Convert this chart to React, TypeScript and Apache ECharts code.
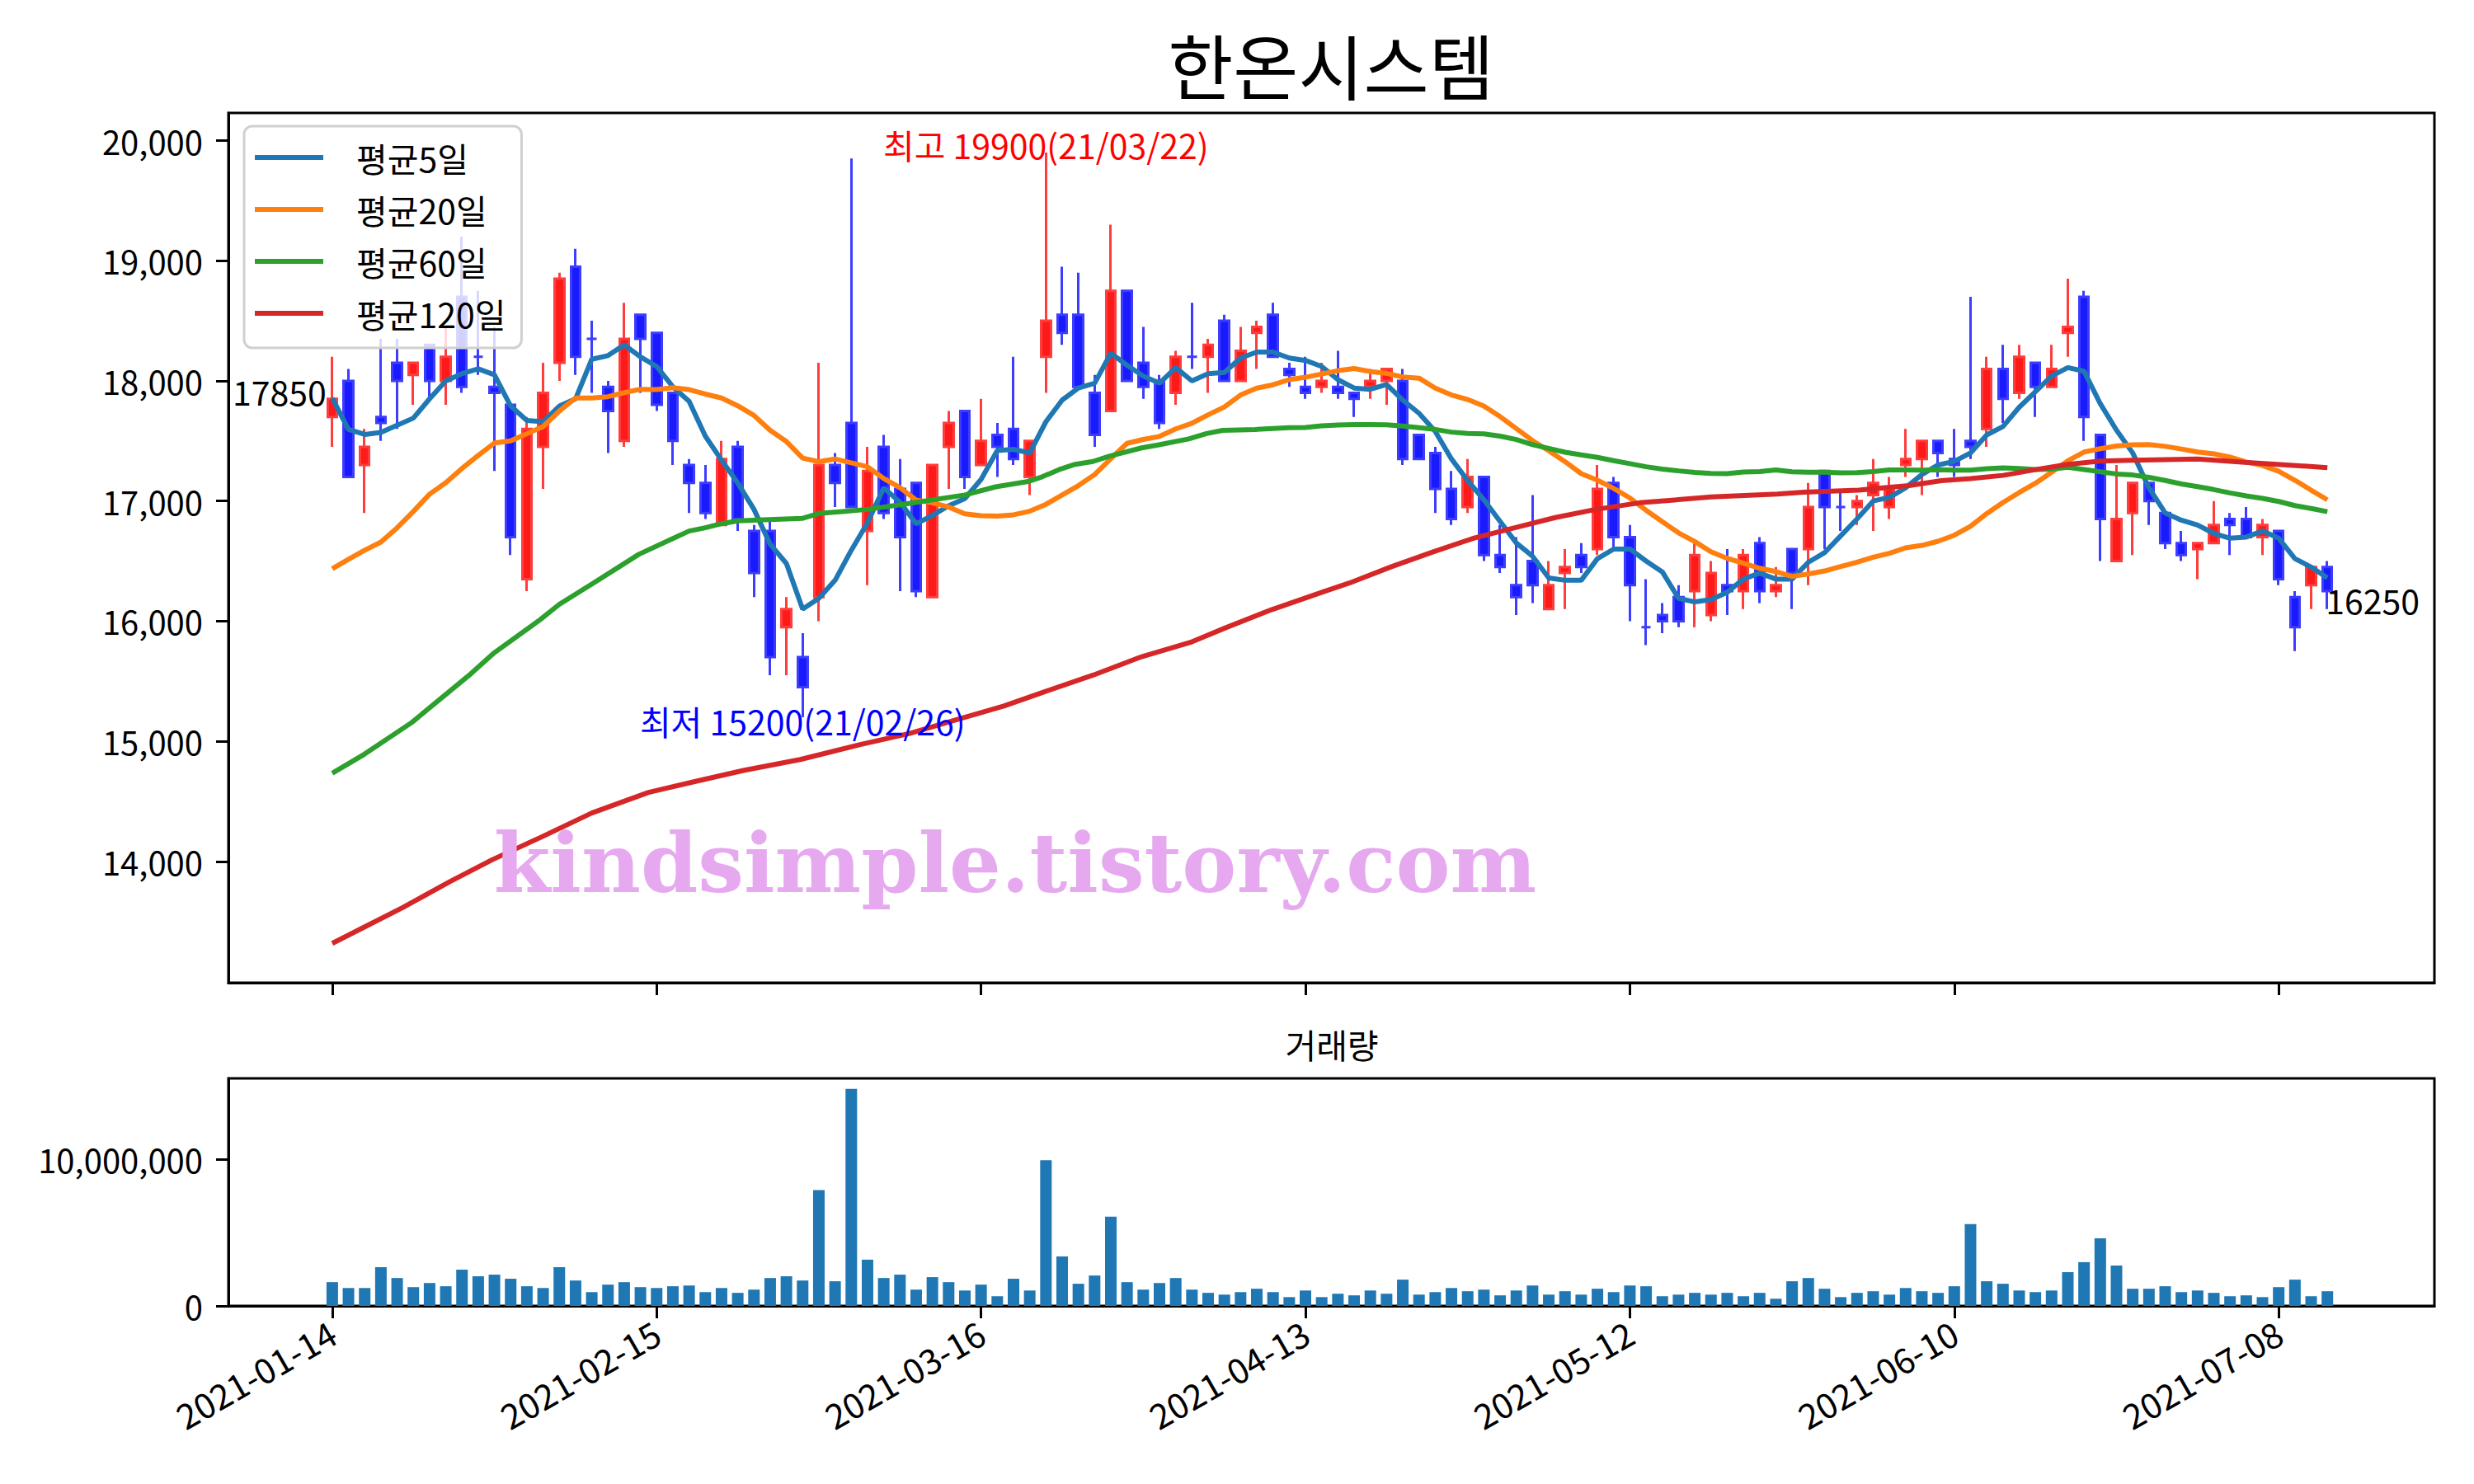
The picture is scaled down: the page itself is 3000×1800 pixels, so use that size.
import React, { useEffect, useRef } from "react";
import * as echarts from "echarts";

const dates = [
  "2021-01-14","2021-01-15","2021-01-18","2021-01-19","2021-01-20","2021-01-21","2021-01-22","2021-01-25","2021-01-26","2021-01-27","2021-01-28","2021-01-29",
  "2021-02-01","2021-02-02","2021-02-03","2021-02-04","2021-02-05","2021-02-08","2021-02-09","2021-02-10","2021-02-15","2021-02-16","2021-02-17","2021-02-18","2021-02-19","2021-02-22","2021-02-23","2021-02-24","2021-02-25","2021-02-26",
  "2021-03-02","2021-03-03","2021-03-04","2021-03-05","2021-03-08","2021-03-09","2021-03-10","2021-03-11","2021-03-12","2021-03-15","2021-03-16","2021-03-17","2021-03-18","2021-03-19","2021-03-22","2021-03-23","2021-03-24","2021-03-25","2021-03-26","2021-03-29","2021-03-30","2021-03-31",
  "2021-04-01","2021-04-02","2021-04-05","2021-04-06","2021-04-07","2021-04-08","2021-04-09","2021-04-12","2021-04-13","2021-04-14","2021-04-15","2021-04-16","2021-04-19","2021-04-20","2021-04-21","2021-04-22","2021-04-23","2021-04-26","2021-04-27","2021-04-28","2021-04-29","2021-04-30",
  "2021-05-03","2021-05-04","2021-05-06","2021-05-07","2021-05-10","2021-05-11","2021-05-12","2021-05-13","2021-05-14","2021-05-17","2021-05-18","2021-05-20","2021-05-21","2021-05-24","2021-05-25","2021-05-26","2021-05-27","2021-05-28","2021-05-31",
  "2021-06-01","2021-06-02","2021-06-03","2021-06-04","2021-06-07","2021-06-08","2021-06-09","2021-06-10","2021-06-11","2021-06-14","2021-06-15","2021-06-16","2021-06-17","2021-06-18","2021-06-21","2021-06-22","2021-06-23","2021-06-24","2021-06-25","2021-06-28","2021-06-29","2021-06-30",
  "2021-07-01","2021-07-02","2021-07-05","2021-07-06","2021-07-07","2021-07-08","2021-07-09","2021-07-12","2021-07-13",
];

const opens = [
  17700,18000,17300,17700,18150,18050,18300,18000,18700,18200,17950,17800,16350,17450,18150,18950,18350,17950,17500,18550,
  18400,17900,17300,17150,16800,17450,16750,16750,15950,15700,16200,17300,17650,16750,17450,17100,17150,16200,17450,17750,
  17300,17550,17600,17200,18200,18550,18550,17900,17750,18750,18150,18000,17900,18200,18200,18500,18000,18400,18550,18100,
  17950,17950,17950,17900,17950,18000,18000,17550,17400,17100,16950,17200,16550,16300,16500,16100,16400,16550,16600,17150,
  16700,15950,16050,16200,16250,16050,16300,16250,16650,16250,16600,16600,17250,16950,16950,17050,16950,17300,17350,17500,
  17350,17500,17600,18100,17900,18150,17950,18400,18700,17550,16500,16900,17150,16900,16650,16600,16650,16850,16850,16700,
  16750,16200,16300,16450,
];
const highs = [
  18200,18100,17600,18350,18350,18150,18300,18450,19200,18750,18450,17800,17700,18150,18900,19100,18500,18000,18650,18550,
  18400,17900,17350,17300,17500,17500,16800,16850,16200,15900,18150,17400,19850,17450,17550,17350,17150,17300,17750,17750,
  17850,17650,18200,17500,19900,18950,18900,18050,19300,18750,18450,18050,18250,18650,18350,18550,18450,18500,18650,18150,
  18200,18150,18250,17900,18100,18100,18100,17550,17450,17250,17350,17200,16800,16700,17050,16500,16600,16650,17300,17200,
  16800,16350,16150,16300,16650,16500,16600,16600,16700,16450,16600,17150,17250,17100,17050,17350,17200,17600,17500,17500,
  17600,18700,18200,18300,18300,18150,18300,18850,18750,17550,17300,17150,17150,16900,16750,16650,17000,16900,16950,16850,
  16750,16250,16450,16500,
];
const lows = [
  17450,17200,16900,17500,17600,17800,17850,17800,17900,18050,17250,16550,16250,17100,18000,18050,17900,17400,17450,17900,
  17750,17300,16900,16850,16800,16750,16200,15550,15550,15200,16000,16950,16950,16300,16850,16250,16200,16200,17100,17100,
  17300,17200,17300,17050,17900,18300,17950,17450,17750,18000,17850,17600,17800,18100,17900,18000,18000,18100,18200,17950,
  17850,17900,17850,17700,17850,17800,17300,17350,16900,16800,16900,16500,16400,16050,16150,16100,16100,16400,16550,16600,
  16000,15800,15900,15950,15950,16000,16050,16100,16150,16200,16100,16300,16600,16750,16800,16750,16850,17200,17050,17200,
  17200,17350,17450,17650,17850,17700,17950,18200,17500,16500,16500,16550,16800,16600,16500,16350,16650,16550,16700,16550,
  16300,15750,16100,16100,
];
const closes = [
  17850,17200,17450,17650,18000,18150,18000,18200,17950,18200,17900,16700,17600,17900,18850,18200,18350,17750,18350,18350,
  17800,17500,17150,16900,17350,16850,16400,15700,16100,15450,17300,17150,16950,17250,16900,16700,16250,17300,17650,17200,
  17500,17450,17350,17500,18500,18400,17950,17550,18750,18000,17950,17650,18200,18200,18300,18000,18250,18450,18200,18050,
  17900,18000,17900,17850,18000,18100,17350,17350,17100,16850,17200,16550,16450,16200,16300,16300,16450,16450,17100,16700,
  16300,15950,16000,16000,16550,16400,16250,16550,16250,16300,16400,16950,16950,16950,17000,17150,17100,17350,17500,17400,
  17300,17450,18100,17850,18200,17950,18100,18450,17700,16850,16850,17150,17000,16650,16550,16650,16800,16800,16700,16800,
  16350,15950,16450,16250,
];
const volumes = [
  1620000,1220000,1220000,2640000,1900000,1280000,1560000,1340000,2470000,2020000,2130000,1850000,1340000,1220000,2640000,1730000,940000,1450000,1620000,1280000,
  1220000,1340000,1390000,940000,1220000,890000,1110000,1900000,2020000,1730000,7890000,1680000,14780000,3150000,1900000,2130000,1110000,1960000,1620000,1050000,
  1450000,660000,1850000,1050000,9930000,3370000,1510000,2070000,6080000,1620000,1110000,1560000,1900000,1110000,890000,770000,940000,1170000,940000,600000,
  1050000,600000,830000,720000,1050000,830000,1790000,770000,940000,1220000,1000000,1110000,720000,1050000,1390000,770000,1000000,770000,1170000,940000,
  1390000,1340000,660000,770000,890000,770000,890000,660000,890000,490000,1680000,1900000,1170000,600000,890000,1000000,770000,1220000,1000000,890000,
  1340000,5570000,1680000,1510000,1050000,940000,1050000,2300000,2980000,4610000,2750000,1170000,1170000,1340000,940000,1050000,890000,660000,720000,600000,
  1280000,1790000,660000,1000000,
];

const ma5Head = [[0, 17857], [1, 17595], [2, 17554], [3, 17571]];
const ma20Head = [
  [0, 16436], [1, 16515], [2, 16590], [3, 16658], [4, 16777], [5, 16913], [6, 17057], [7, 17152], [8, 17271], [9, 17380],
  [10, 17483], [11, 17500], [12, 17561], [13, 17619], [14, 17748], [15, 17857], [16, 17857], [17, 17868], [18, 17902],
];
const ma60Head = [
  [0, 14734], [2, 14894], [4.9, 15156], [8.4, 15545], [10, 15738], [12.8, 16010], [14, 16140], [16.1, 16317],
  [18.9, 16556], [20.8, 16675], [22, 16750], [23, 16777], [24, 16811], [25, 16835], [26.9, 16845], [29, 16856], [30, 16896],
  [33, 16930], [35.7, 16982], [39, 17050], [40.9, 17118], [42.9, 17162], [43.8, 17203], [44.8, 17261], [45.8, 17305],
  [46.9, 17329], [47.9, 17373], [49.9, 17442], [50.9, 17466], [52.8, 17517], [53.9, 17561], [54.9, 17588], [56.9, 17595],
];
const ma120Points = [
  [0, 13318], [2, 13455], [4.34, 13615], [7.25, 13832], [9.88, 14015], [12.8, 14197], [16, 14403], [19.5, 14574],
  [22.4, 14666], [25.35, 14757], [28.85, 14848], [32.6, 14974], [35.6, 15065], [38.5, 15180], [41.4, 15293], [43.8, 15407],
  [46.9, 15550], [49.9, 15704], [52.9, 15823], [54.9, 15935], [57.9, 16095], [61.2, 16249], [62.7, 16317], [65.3, 16453],
  [67.8, 16573], [70.4, 16692], [72.9, 16777], [75.4, 16862], [77.9, 16930], [80.6, 16985], [85, 17033], [89.1, 17057],
  [90.7, 17074], [94.1, 17091], [97.2, 17128], [99.2, 17169], [101, 17186], [103, 17213], [105, 17261], [107, 17305],
  [109, 17333], [111, 17339], [115, 17350], [117.9, 17322], [119.9, 17305], [123, 17278],
];

const priceTicks = [14000, 15000, 16000, 17000, 18000, 19000, 20000];
const volumeTicks = [0, 10000000];
const dateTickIdx = [0, 20, 40, 60, 80, 100, 120];
const maNames = ["평균5일", "평균20일", "평균60일", "평균120일"];

const FONT = "'Noto Sans CJK KR', 'Noto Sans', sans-serif";
const UP = "#ff1a1a";
const UP_B = "#ff3d3d";
const DOWN = "#1a1aff";
const DOWN_B = "#3d3dff";

function rolling(n: number): number[][] {
  const out: number[][] = [];
  for (let i = n - 1; i < closes.length; i++) {
    let s = 0;
    for (let k = i - n + 1; k <= i; k++) s += closes[k];
    out.push([i, s / n]);
  }
  return out;
}

const fmt = (v: number) => Math.round(v).toLocaleString("en-US");

export default function App() {
  const ref = useRef<HTMLDivElement>(null);
  useEffect(() => {
    if (!ref.current) return;
    const chart = echarts.init(ref.current, undefined, { renderer: "svg" });

    const candleData = closes.map((c, i) => {
      const up = c > opens[i];
      const col = up ? UP : DOWN;
      const bcol = up ? UP_B : DOWN_B;
      return {
        value: [i, opens[i], c, lows[i], highs[i]],
        itemStyle: { color: col, color0: col, borderColor: bcol, borderColor0: bcol, borderColorDoji: bcol },
      };
    });
    const ma5 = [...ma5Head, ...rolling(5)];
    const ma20 = [...ma20Head, ...rolling(20)];
    const ma60 = [...ma60Head, ...rolling(60)];
    const maData = [ma5, ma20, ma60, ma120Points];
    const maColors = ["#1f77b4", "#ff7f0e", "#2ca02c", "#d62728"];

    const XMIN = -6.4, XMAX = 129.6;
    const tickStyle = { show: true, length: 15, lineStyle: { color: "#000", width: 3 } };
    const axisLine = { show: true, onZero: false, lineStyle: { color: "#000", width: 3 } };

    const option: any = {
      animation: false,
      textStyle: { fontFamily: FONT },
      grid: [
        { left: 277, right: 48, top: 137, height: 1055, show: true, borderColor: "#000", borderWidth: 3 },
        { left: 277, right: 48, top: 1308, height: 276, show: true, borderColor: "#000", borderWidth: 3 },
      ],
      legend: {
        data: maNames,
        orient: "vertical",
        left: 296,
        top: 153,
        icon: "rect",
        itemWidth: 83,
        itemHeight: 6,
        itemGap: 21,
        padding: [17, 19, 21, 13],
        backgroundColor: "rgba(255,255,255,0.8)",
        borderColor: "#d0d0d0",
        borderWidth: 3,
        borderRadius: 10,
        textStyle: { fontSize: 41, lineHeight: 42, color: "#000", fontFamily: FONT, padding: [0, 0, 0, 35] },
      },
      xAxis: [
        {
          type: "value", gridIndex: 0, min: XMIN, max: XMAX,
          axisLine, splitLine: { show: false },
          axisTick: { ...tickStyle, customValues: dateTickIdx },
          axisLabel: { show: false },
        },
        {
          type: "value", gridIndex: 1, min: XMIN, max: XMAX,
          axisLine, splitLine: { show: false },
          axisTick: { ...tickStyle, customValues: dateTickIdx },
          axisLabel: {
            customValues: dateTickIdx,
            formatter: (v: number) => dates[Math.round(v)] || "",
            rotate: 30, fontSize: 42, color: "#000", margin: 28, fontFamily: FONT,
          },
        },
      ],
      yAxis: [
        {
          type: "value", gridIndex: 0, min: 12990, max: 20230,
          axisLine, splitLine: { show: false },
          axisTick: { ...tickStyle, customValues: priceTicks },
          axisLabel: { customValues: priceTicks, formatter: fmt, fontSize: 40, color: "#000", margin: 31, fontFamily: FONT },
        },
        {
          type: "value", gridIndex: 1, min: 0, max: 15500000,
          axisLine, splitLine: { show: false },
          axisTick: { ...tickStyle, customValues: volumeTicks },
          axisLabel: { customValues: volumeTicks, formatter: fmt, fontSize: 40, color: "#000", margin: 31, fontFamily: FONT },
        },
      ],
      series: [
        {
          type: "candlestick", name: "price", xAxisIndex: 0, yAxisIndex: 0,
          encode: { x: 0, y: [1, 2, 3, 4] },
          barWidth: 12,
          itemStyle: { borderWidth: 3 },
          data: candleData, z: 2,
        },
        ...maNames.map((n, k) => ({
          type: "line", name: n, xAxisIndex: 0, yAxisIndex: 0,
          data: maData[k], showSymbol: false, symbol: "none",
          lineStyle: { color: maColors[k], width: 6 }, itemStyle: { color: maColors[k] },
          z: 3,
        })),
        {
          type: "bar", name: "volume", xAxisIndex: 1, yAxisIndex: 1,
          data: volumes.map((v, i) => [i, v]),
          barWidth: 14, itemStyle: { color: "#1f77b4" },
        },
      ],
    };
    chart.setOption(option);

    // annotations positioned through the chart's scales
    let hi = 0, lo = 0;
    highs.forEach((h, i) => { if (h > highs[hi]) hi = i; });
    lows.forEach((l, i) => { if (l < lows[lo]) lo = i; });
    const short = (d: string) => d.slice(2).replace(/-/g, "/");
    const px = (x: number, y: number) => chart.convertToPixel({ xAxisIndex: 0, yAxisIndex: 0 }, [x, y]) as number[];
    const pHi = px(hi, highs[hi]);
    const pLo = px(lo, lows[lo]);
    const last = closes.length - 1;
    const pFirst = px(0, closes[0]);
    const pLast = px(last, closes[last]);
    const textFont = `41px ${FONT}`;

    chart.setOption({
      graphic: [
        { type: "text", x: 1614, y: 77, style: { text: "한온시스템", font: `86px ${FONT}`, fill: "#000", align: "center", verticalAlign: "middle" } },
        { type: "text", x: 1615, y: 1266, style: { text: "거래량", font: textFont, fill: "#000", align: "center", verticalAlign: "middle" } },
        { type: "text", x: pHi[0], y: pHi[1] - 10, z: 10, style: { text: `최고 ${highs[hi]}(${short(dates[hi])})`, font: textFont, fill: "#ff0000", align: "center", verticalAlign: "middle" } },
        { type: "text", x: pLo[0], y: pLo[1] + 4, z: 10, style: { text: `최저 ${lows[lo]}(${short(dates[lo])})`, font: textFont, fill: "#0000ff", align: "center", verticalAlign: "middle" } },
        { type: "text", x: pFirst[0] - 7, y: pFirst[1] - 10, z: 10, style: { text: `${closes[0]}`, font: textFont, fill: "#000", align: "right", verticalAlign: "middle" } },
        { type: "text", x: pLast[0] - 2, y: pLast[1] + 10, z: 10, style: { text: `${closes[last]}`, font: textFont, fill: "#000", align: "left", verticalAlign: "middle" } },
        { type: "text", x: 1231, y: 1047, z: 20, style: { text: "kindsimple.tistory.com", font: `bold 99px 'DejaVu Serif', serif`, fill: "#e6a9f0", align: "center", verticalAlign: "middle" } },
      ],
    });

    return () => chart.dispose();
  }, []);

  return <div ref={ref} style={{ position: "fixed", left: 0, top: 0, width: 3000, height: 1800, background: "#fff" }} />;
}
